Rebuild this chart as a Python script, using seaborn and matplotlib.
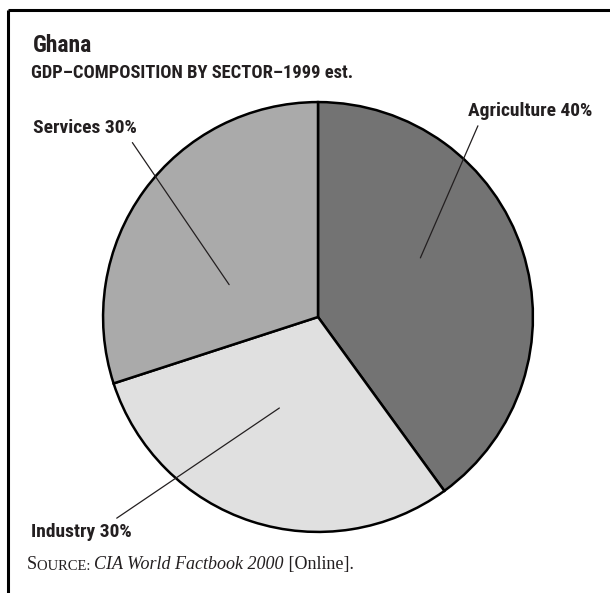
import matplotlib
matplotlib.use("Agg")
import matplotlib.pyplot as plt
import seaborn as sns
import numpy as np

# data
sectors = ["Agriculture", "Industry", "Services"]
shares = [40, 30, 30]
sector_colors = ["#737373", "#e0e0e0", "#aaaaaa"]

title = "Ghana"
subtitle = "GDP\u2013COMPOSITION BY SECTOR\u20131999 est."

sns.set_theme(style="white")
plt.rcParams["font.family"] = ["Roboto Condensed", "DejaVu Sans"]

W, H = 610, 593
fig = plt.figure(figsize=(W / 100, H / 100), dpi=100)

# pie axes: centre (318, 317), radius 216 px
cx, cy, r = 318, 317, 216
ax = fig.add_axes([(cx - r) / W, (H - cy - r) / H, 2 * r / W, 2 * r / H])
ax.pie(shares, colors=sector_colors, startangle=90, counterclock=False,
       wedgeprops=dict(edgecolor="black", linewidth=1.8))
ax.set_xlim(-1.005, 1.005)
ax.set_ylim(-1.005, 1.005)
ax.set_aspect("equal")
ax.axis("off")

# overlay axes in pixel units (y down) for frame, texts and leader lines
ov = fig.add_axes([0, 0, 1, 1])
ov.set_zorder(3)
ov.set_xlim(0, W)
ov.set_ylim(H, 0)
ov.axis("off")

ov.plot([8, W], [10, 10], color="black", lw=2.2, solid_capstyle="butt")
ov.plot([8, 8], [10, H], color="black", lw=2.2, solid_capstyle="butt")

bold = dict(fontweight="bold", color="#231f20")
ov.text(33, 52, title, fontsize=17, va="baseline", ha="left", **bold)
ov.text(31, 78, subtitle, fontsize=13.3, va="baseline", ha="left", **bold)

# labels with leader lines: (text x, baseline y, anchor angle deg, anchor radius, relpos)
label_layout = {
    "Agriculture": (468, 116, 30, 0.55, (0.1, 0.0)),
    "Services": (33, 133, 160, 0.44, (0.92, 0.0)),
    "Industry": (31, 537, -113, 0.46, (0.78, 1.0)),
}
for name, share in zip(sectors, shares):
    tx, ty, ang, rad, rp = label_layout[name]
    a = np.deg2rad(ang)
    ov.annotate(f"{name} {share}%", xy=(rad * np.cos(a), rad * np.sin(a)),
                xycoords=ax.transData, xytext=(tx, ty), textcoords="data",
                fontsize=14, va="baseline", ha="left", **bold,
                arrowprops=dict(arrowstyle="-", color="#231f20", lw=0.9,
                                relpos=rp, shrinkA=2, shrinkB=0))

# source line: small caps + italic + roman
serif = ["Liberation Serif", "DejaVu Serif"]
t1 = ov.text(27, 569, "S", fontsize=13, family=serif, va="baseline", color="#231f20")
t2 = ov.annotate("OURCE: ", xy=(1, 0), xycoords=t1, fontsize=10.5, family=serif,
                 va="bottom", color="#231f20")
t3 = ov.annotate("CIA World Factbook 2000", xy=(1, 0), xycoords=t2, fontsize=13,
                 family=serif, style="italic", va="bottom", color="#231f20")
ov.annotate(" [Online].", xy=(1, 0), xycoords=t3, fontsize=13, family=serif,
            va="bottom", color="#231f20")

fig.savefig("out.png", dpi=100)
